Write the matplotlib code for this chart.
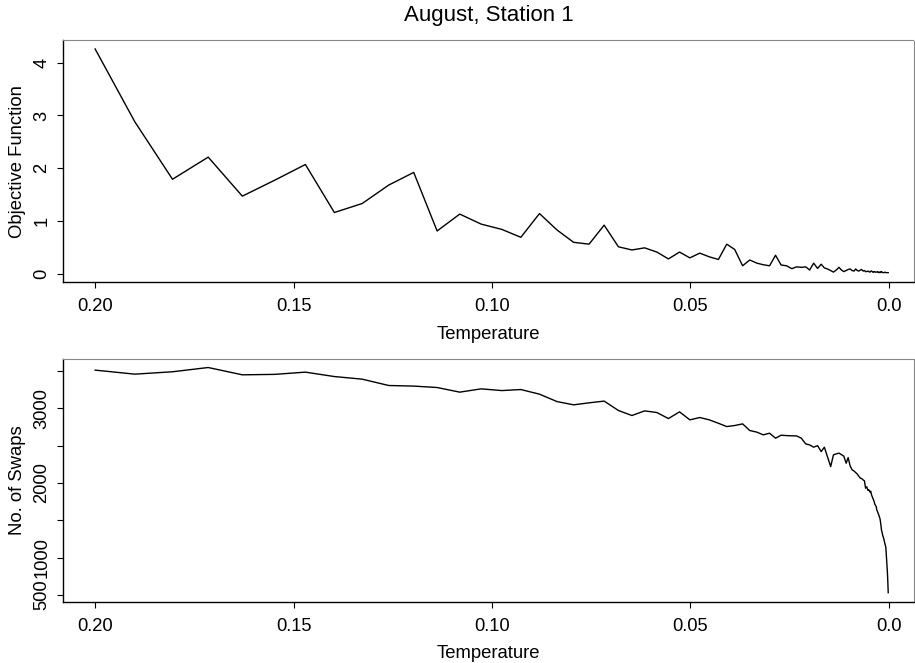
import matplotlib.pyplot as plt
from matplotlib.ticker import FixedLocator, FixedFormatter

plt.rcParams['font.family'] = ['Liberation Sans', 'DejaVu Sans']

# temperatures (x), shared by both panels
temperature = [
    0.2000, 0.1900, 0.1805, 0.1715, 0.1629, 0.1548, 0.1470, 0.1397, 0.1327, 0.1260,
    0.1197, 0.1138, 0.1081, 0.1027, 0.0975, 0.0927, 0.0880, 0.0836, 0.0794, 0.0755,
    0.0717, 0.0681, 0.0647, 0.0615, 0.0584, 0.0555, 0.0527, 0.0501, 0.0476, 0.0452,
    0.0429, 0.0408, 0.0388, 0.0368, 0.0350, 0.0332, 0.0316, 0.0300, 0.0285, 0.0271,
    0.0257, 0.0244, 0.0232, 0.0220, 0.0209, 0.0199, 0.0189, 0.0179, 0.0170, 0.0162,
    0.0154, 0.0146, 0.0139, 0.0132, 0.0125, 0.0119, 0.0113, 0.0107, 0.0102, 0.0097,
    0.0092, 0.0087, 0.0083, 0.0079, 0.0075, 0.0071, 0.0068, 0.0064, 0.0061, 0.0058,
    0.0055, 0.0052, 0.0050, 0.0047, 0.0045, 0.0043, 0.0040, 0.0038, 0.0037, 0.0035,
    0.0033, 0.0031, 0.0030, 0.0028, 0.0027, 0.0026, 0.0024, 0.0023, 0.0022, 0.0021,
    0.0020, 0.0019, 0.0018, 0.0017, 0.0016, 0.0015, 0.0012, 0.0009, 0.0007, 0.0005,
    0.0003, 0.0002, 0.0001,
]

objective = [
    4.26, 2.88, 1.79, 2.21, 1.47, 1.77, 2.07, 1.16, 1.33, 1.68,
    1.92, 0.81, 1.13, 0.94, 0.84, 0.69, 1.14, 0.83, 0.595, 0.56,
    0.92, 0.51, 0.45, 0.49, 0.41, 0.28, 0.41, 0.30, 0.39, 0.32,
    0.27, 0.56, 0.46, 0.15, 0.26, 0.20, 0.17, 0.15, 0.35, 0.165,
    0.15, 0.095, 0.13, 0.12, 0.13, 0.07, 0.20, 0.10, 0.18, 0.11,
    0.09, 0.06, 0.03, 0.07, 0.12, 0.07, 0.04, 0.06, 0.08, 0.09,
    0.06, 0.05, 0.09, 0.06, 0.05, 0.07, 0.08, 0.05, 0.06, 0.04,
    0.04, 0.05, 0.04, 0.03, 0.05, 0.05, 0.03, 0.04, 0.03, 0.04,
    0.03, 0.03, 0.03, 0.04, 0.03, 0.03, 0.02, 0.03, 0.03, 0.02,
    0.03, 0.04, 0.04, 0.03, 0.03, 0.02, 0.02, 0.03, 0.02, 0.02,
    0.02, 0.02, 0.02,
]

swaps = [
    3512, 3458, 3490, 3547, 3449, 3455, 3485, 3426, 3391, 3306,
    3298, 3279, 3217, 3261, 3238, 3252, 3190, 3091, 3047, 3074,
    3097, 2971, 2904, 2966, 2944, 2863, 2953, 2846, 2877, 2846,
    2800, 2756, 2770, 2792, 2703, 2681, 2645, 2667, 2600, 2640,
    2635, 2632, 2631, 2600, 2524, 2510, 2480, 2500, 2421, 2480,
    2350, 2220, 2377, 2390, 2400, 2380, 2360, 2265, 2340, 2230,
    2176, 2160, 2140, 2120, 2090, 2064, 2060, 2040, 2030, 1930,
    1950, 1900, 1910, 1880, 1890, 1840, 1800, 1773, 1760, 1720,
    1700, 1680, 1640, 1620, 1600, 1590, 1560, 1540, 1528, 1500,
    1460, 1420, 1370, 1350, 1330, 1300, 1250, 1180, 1140, 970,
    800, 680, 531,
]

x_ticks = [0.20, 0.15, 0.10, 0.05, 0.0]
x_labels = ["0.20", "0.15", "0.10", "0.05", "0.0"]
obj_ticks = [0, 1, 2, 3, 4]
obj_labels = ["0", "1", "2", "3", "4"]
swap_ticks = [500, 1000, 1500, 2000, 2500, 3000, 3500]
swap_labels = ["500", "1000", "", "2000", "", "3000", ""]

W, H = 915, 663
fig = plt.figure(figsize=(W / 100, H / 100), dpi=100)

def frame(box):
    l, t, r, b = box
    return [l / W, 1 - b / H, (r - l) / W, (b - t) / H]

ax1 = fig.add_axes(frame((63, 40, 914, 282.3)))
ax2 = fig.add_axes(frame((63, 359, 914, 601.7)))

def style(ax, yticks, ylabels, ylabel):
    ax.set_xlim(0.2081, -0.0064)
    ax.xaxis.set_major_locator(FixedLocator(x_ticks))
    ax.xaxis.set_major_formatter(FixedFormatter(x_labels))
    ax.yaxis.set_major_locator(FixedLocator(yticks))
    ax.yaxis.set_major_formatter(FixedFormatter(ylabels))
    ax.tick_params(axis='both', direction='out', length=4, width=0.8,
                   labelsize=13.2, colors='black')
    ax.tick_params(axis='x', pad=7.5)
    ax.tick_params(axis='y', pad=5)
    for lab in ax.get_yticklabels():
        lab.set_rotation(90)
        lab.set_va('center')
    for side in ('left', 'bottom'):
        ax.spines[side].set_linewidth(1.0)
        ax.spines[side].set_color('black')
    for side in ('top', 'right'):
        ax.spines[side].set_linewidth(0.8)
        ax.spines[side].set_color('#888888')
        ax.spines[side].set_linestyle((0, (1, 1)))
    ax.set_xlabel("Temperature", fontsize=13.3)
    ax.set_ylabel(ylabel, fontsize=13.3)
    ax.xaxis.set_label_coords(0.5, -0.18)
    ax.yaxis.set_label_coords(-0.044, 0.5)

ax1.plot(temperature, objective, color='black', lw=1.0)
ax1.set_ylim(-0.163, 4.43)
style(ax1, obj_ticks, obj_labels, "Objective Function")

ax2.plot(temperature, swaps, color='black', lw=1.0)
ax2.set_ylim(410, 3661)
style(ax2, swap_ticks, swap_labels, "No. of Swaps")

fig.text(488.5 / W, 1 - 15 / H, "August, Station 1", ha='center', va='center',
         fontsize=16)

fig.savefig("out.png", dpi=100)
